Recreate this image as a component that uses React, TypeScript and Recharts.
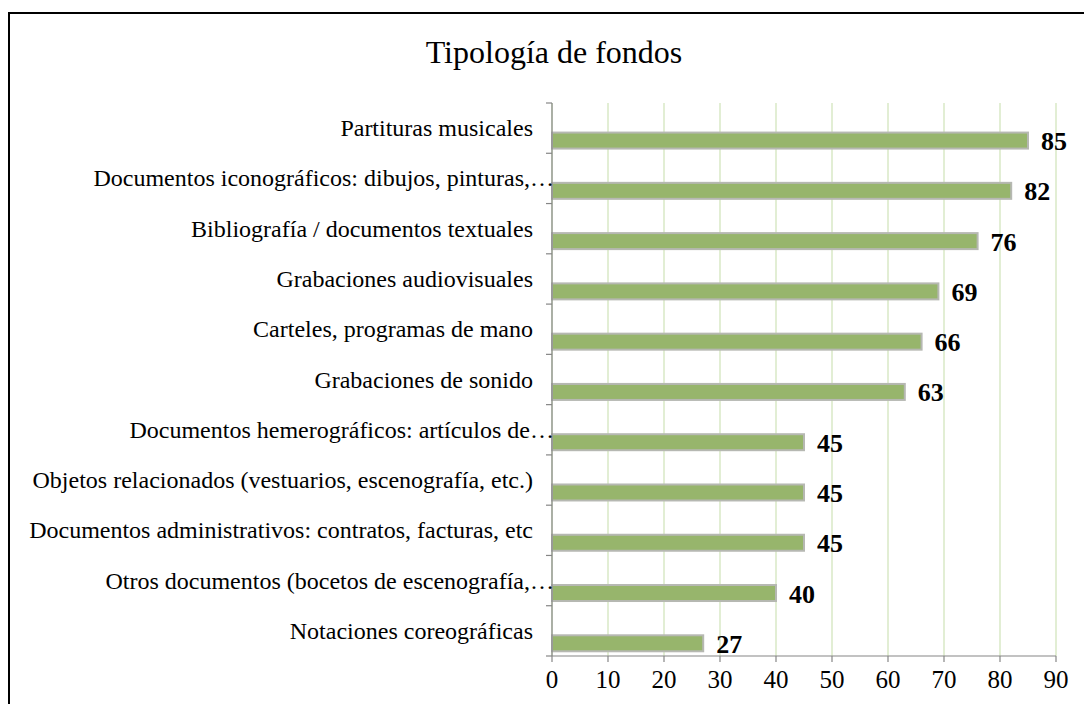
import React from "react";
import { BarChart, Bar, XAxis, YAxis, CartesianGrid, LabelList } from "recharts";

const title = "Tipología de fondos";

const categories = [
  "Partituras musicales",
  "Documentos iconográficos: dibujos, pinturas,…",
  "Bibliografía / documentos textuales",
  "Grabaciones audiovisuales",
  "Carteles, programas de mano",
  "Grabaciones de sonido",
  "Documentos hemerográficos: artículos de…",
  "Objetos relacionados (vestuarios, escenografía, etc.)",
  "Documentos administrativos: contratos, facturas, etc",
  "Otros documentos (bocetos de escenografía,…",
  "Notaciones coreográficas",
];

const values = [85, 82, 76, 69, 66, 63, 45, 45, 45, 40, 27];

const xTicks = [0, 10, 20, 30, 40, 50, 60, 70, 80, 90];

const data = categories.map((name, i) => ({ name, value: values[i] }));

const W = 1084;
const H = 704;
const MARGIN = { top: 103, right: 28, bottom: 8, left: 0 };
const Y_AXIS_W = 552;
const X_AXIS_H = 40;
const PLOT_H = H - MARGIN.top - MARGIN.bottom - X_AXIS_H;
const BAND = PLOT_H / categories.length;
const BAR_SHIFT = BAND * 0.25;

const FONT = '"Liberation Serif", "Times New Roman", serif';

const YTick = (props: any) => {
  const { x, y, payload, index } = props;
  const label: string = payload.value;
  const truncated = label.endsWith("…");
  const tx = truncated ? x + 2 : x - 19;
  return (
    <g>
      <line x1={x - 6} x2={x} y1={y + BAND / 2} y2={y + BAND / 2} stroke="#868686" strokeWidth={1.2} />
      {index === 0 && (
        <line x1={x - 6} x2={x} y1={y - BAND / 2} y2={y - BAND / 2} stroke="#868686" strokeWidth={1.2} />
      )}
      <text
        x={tx}
        y={y}
        textAnchor="end"
        dominantBaseline="central"
        style={{ fontFamily: FONT, fontSize: 24, fill: "#000" }}
      >
        {label}
      </text>
    </g>
  );
};

const XTick = (props: any) => {
  const { x, y, payload } = props;
  return (
    <text
      x={x}
      y={y + 12}
      textAnchor="middle"
      dominantBaseline="central"
      style={{ fontFamily: FONT, fontSize: 25, fill: "#000" }}
    >
      {payload.value}
    </text>
  );
};

const BarShape = (props: any) => {
  const { x, y, width, height } = props;
  return (
    <rect
      x={x}
      y={y + BAR_SHIFT}
      width={width}
      height={height}
      fill="#97b56c"
      stroke="#b6b8b2"
      strokeWidth={2}
    />
  );
};

const ValueLabel = (props: any) => {
  const { x, y, width, height, value } = props;
  return (
    <text
      x={x + width + 13}
      y={y + height / 2 + BAR_SHIFT + 1}
      dominantBaseline="central"
      textAnchor="start"
      style={{ fontFamily: FONT, fontWeight: "bold", fontSize: 26, fill: "#000" }}
    >
      {value}
    </text>
  );
};

export default function App() {
  return (
    <div
      style={{
        position: "absolute",
        left: 0,
        top: 0,
        width: W,
        height: H,
        overflow: "hidden",
        background: "#fff",
      }}
    >
      <div
        style={{
          position: "absolute",
          left: 8,
          top: 12,
          width: 1100,
          height: 720,
          border: "2px solid #000",
          boxSizing: "border-box",
        }}
      />
      <svg style={{ position: "absolute", left: 0, top: 0 }} width={W} height={90}>
        <text x={554} y={63} textAnchor="middle" style={{ fontFamily: FONT, fontSize: 32, fill: "#000" }}>
          {title}
        </text>
      </svg>
      <div style={{ position: "absolute", left: 0, top: 0 }}>
        <BarChart width={W} height={H} data={data} layout="vertical" margin={MARGIN} barSize={16}>
          <CartesianGrid horizontal={false} vertical={true} stroke="#d3e5bd" strokeWidth={1.3} />
          <XAxis
            type="number"
            domain={[0, 90]}
            ticks={xTicks}
            interval={0}
            height={X_AXIS_H}
            axisLine={{ stroke: "#868686", strokeWidth: 1.2 }}
            tickLine={{ stroke: "#868686", strokeWidth: 1.2 }}
            tickSize={6}
            tickMargin={5}
            tick={<XTick />}
          />
          <YAxis
            type="category"
            dataKey="name"
            width={Y_AXIS_W}
            interval={0}
            axisLine={{ stroke: "#868686", strokeWidth: 1.2 }}
            tickLine={false}
            tickSize={0}
            tickMargin={0}
            tick={<YTick />}
          />
          <Bar dataKey="value" shape={<BarShape />} isAnimationActive={false}>
            <LabelList dataKey="value" content={<ValueLabel />} />
          </Bar>
        </BarChart>
      </div>
    </div>
  );
}
